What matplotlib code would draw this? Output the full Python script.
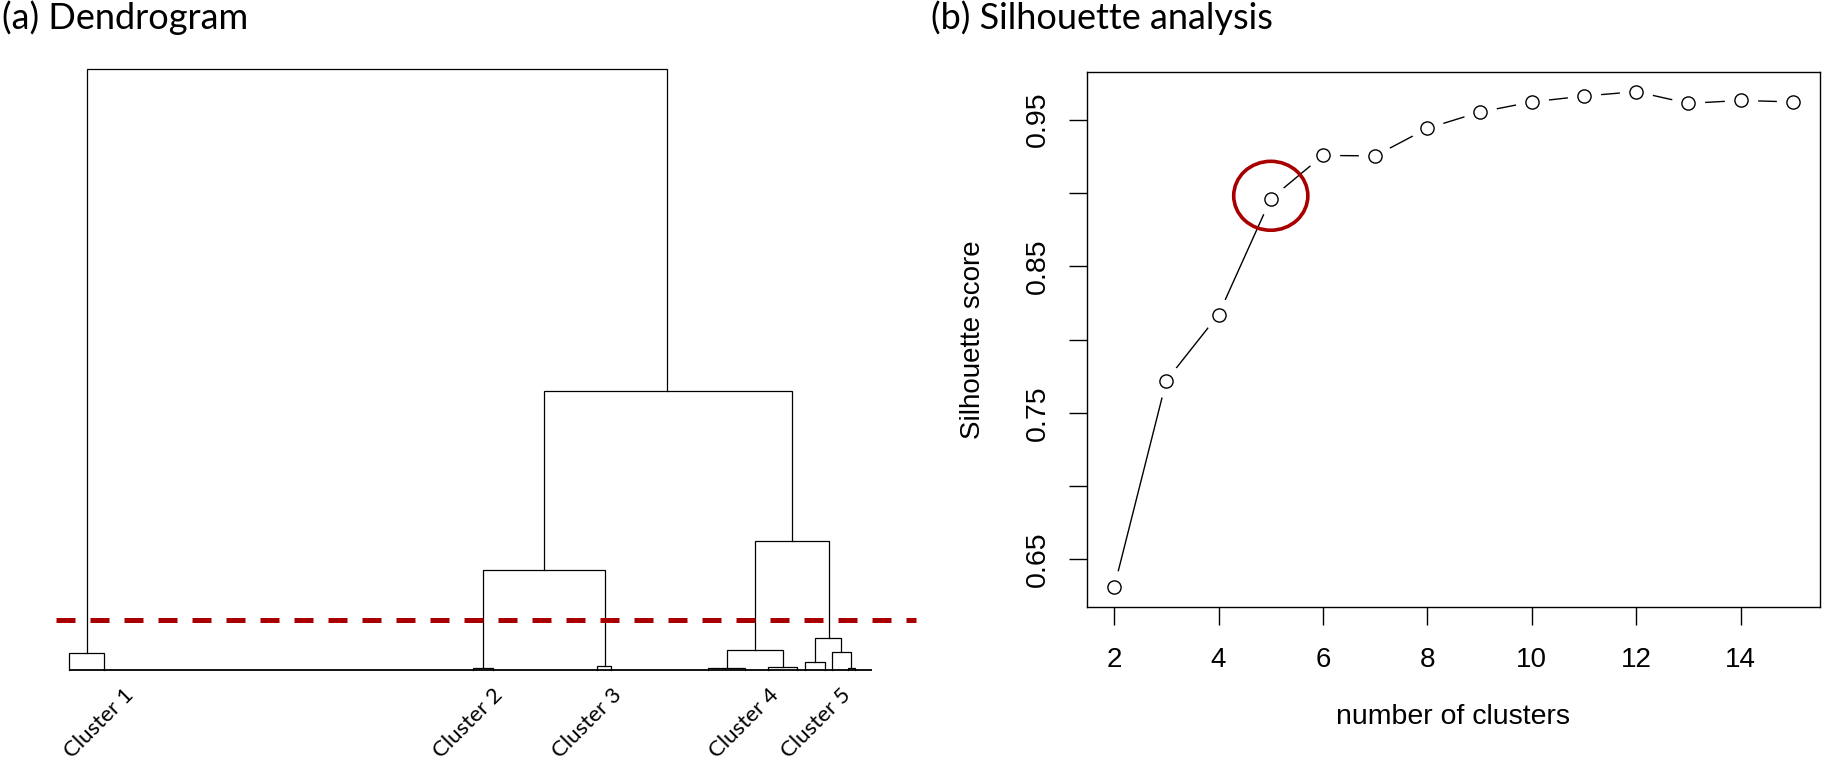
import numpy as np
import matplotlib.pyplot as plt
from matplotlib.patches import Ellipse

# ---- (a) dendrogram: one row per merge ----
# left x, right x, merge height, height of left child, height of right child
merge_left = [2.2, 59.1, 51.6, 85.4, 81.9, 92.9, 91.7, 95.05, 0.04, 50.3, 65.8, 79.6, 87.0, 96.95]
merge_right = [74.5, 90.0, 66.7, 94.6, 88.95, 96.2, 94.1, 97.4, 4.3, 52.8, 67.5, 84.2, 90.7, 97.85]
merge_height = [100, 46.4, 16.6, 21.5, 3.3, 5.3, 1.3, 3.05, 2.8, 0.3, 0.67, 0.4, 0.55, 0.4]
child_left_h = [2.8, 16.6, 0.3, 3.3, 0.4, 1.3, 0, 0, 0, 0, 0, 0, 0, 0]
child_right_h = [46.4, 21.5, 0.67, 5.3, 0.55, 3.05, 0, 0.4, 0, 0, 0, 0, 0, 0]
leaf_span = [0.0, 100.0]
cut_height = 8.3
cluster_names = ['Cluster 1', 'Cluster 2', 'Cluster 3', 'Cluster 4', 'Cluster 5']
cluster_label_x = [6.8, 52.8, 67.6, 87.1, 96.1]

# ---- (b) silhouette ----
n_clusters = np.arange(2, 16)
silhouette = [0.631, 0.772, 0.817, 0.896, 0.9255, 0.9252, 0.944, 0.955,
              0.962, 0.966, 0.969, 0.961, 0.963, 0.962]
best_k = 5

red = '#A80000'
W, H = 1825, 764
fig = plt.figure(figsize=(W / 100, H / 100), dpi=100)

# dendrogram axes (data 0..100 in x spans px 69..872, height 0..100 spans px 670..69)
ax1 = fig.add_axes([40 / W, 1 - 690 / H, 880 / W, 630 / H])
ax1.set_xlim((40 - 69) / 8.03, (920 - 69) / 8.03)
ax1.set_ylim((670 - 690) / 6.01, (670 - 60) / 6.01)
ax1.axis('off')

for xl, xr, h, hl, hr in zip(merge_left, merge_right, merge_height, child_left_h, child_right_h):
    ax1.plot([xl, xl, xr, xr], [hl, h, h, hr], color='black', lw=0.9,
             solid_joinstyle='miter', clip_on=False)
ax1.hlines(0, leaf_span[0], leaf_span[1], color='black', lw=1.3)
ax1.hlines(cut_height, -1.6, 105.5, color=red, lw=3.6, linestyles=(0, (3.8, 3.0)))

for name, x in zip(cluster_names, cluster_label_x):
    ax1.text(x, -2.5, name, rotation=45, ha='right', va='top',
             rotation_mode='anchor', fontsize=16, family='Lato', clip_on=False)

fig.text(2 / W, 1 - 29 / H, '(a) Dendrogram', fontsize=26, family='Lato',
         va='baseline', ha='left')
fig.text(931 / W, 1 - 29 / H, '(b) Silhouette analysis', fontsize=26, family='Lato',
         va='baseline', ha='left')

# silhouette axes
ax2 = fig.add_axes([1087 / W, 1 - 607 / H, 733 / W, 535 / H])
ax2.plot(n_clusters, silhouette, color='black', lw=1.0, zorder=2)
ax2.plot(n_clusters, silhouette, 'o', ms=24, mfc='white', mec='none', zorder=3)
ax2.plot(n_clusters, silhouette, 'o', ms=9.5, mfc='white', mec='black', mew=1.0, zorder=4)

i = list(n_clusters).index(best_k)
ax2.add_patch(Ellipse((best_k, silhouette[i] + 0.002), 1.42, 0.047,
                      fill=False, ec=red, lw=2.6, zorder=5))

ax2.set_xlim(1.48, 15.52)
ax2.set_ylim(0.6176, 0.9824)
ax2.set_xticks(np.arange(2, 15, 2))
yt = np.round(np.arange(0.65, 0.951, 0.05), 2)
ax2.set_yticks(yt)
ax2.set_yticklabels(['%.2f' % v if round(v * 100) % 10 == 5 else '' for v in yt],
                    rotation=90, va='center')
ax2.tick_params(direction='out', length=13, width=1.0, pad=13)
ax2.tick_params(axis='x', labelsize=20, pad=16)
ax2.tick_params(axis='y', labelsize=20.5)
for lab in ax2.get_xticklabels() + ax2.get_yticklabels():
    lab.set_family('Liberation Sans')
for s in ax2.spines.values():
    s.set_linewidth(1.0)
ax2.set_xlabel('number of clusters', fontsize=20.5, family='Liberation Sans', labelpad=22)
ax2.set_ylabel('Silhouette score', fontsize=20, family='Liberation Sans', labelpad=28)

fig.savefig('out.png', dpi=100)
